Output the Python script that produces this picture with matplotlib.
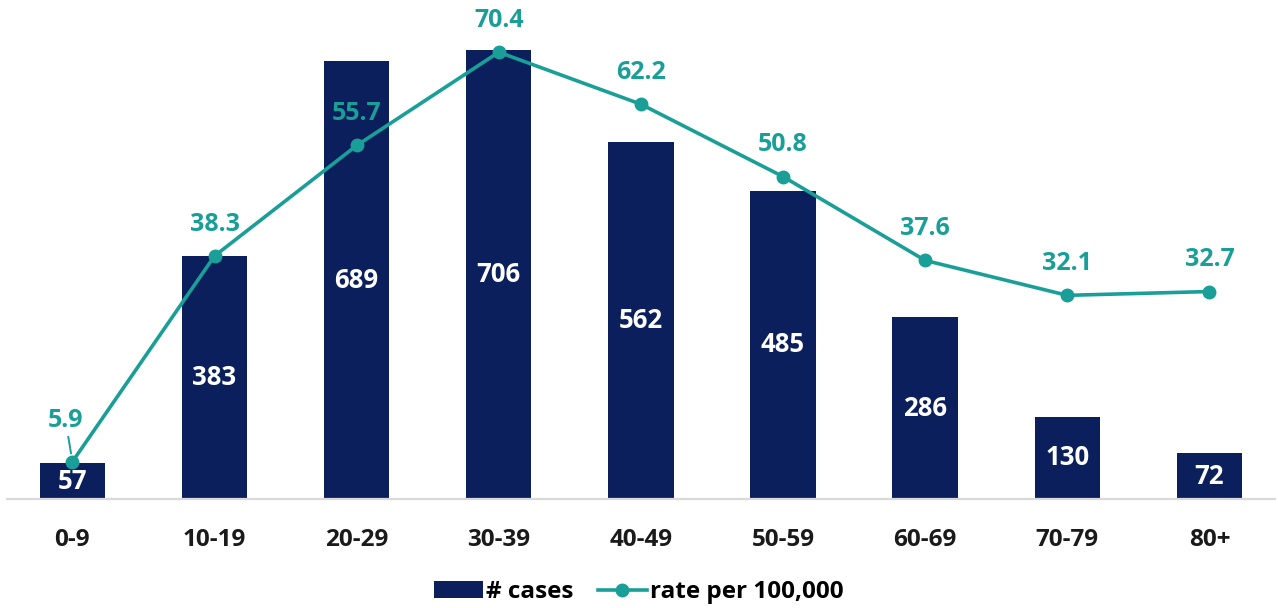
import numpy as np
import matplotlib.pyplot as plt
from matplotlib.lines import Line2D
from matplotlib.patches import Patch

plt.rcParams['font.family'] = ['Open Sans', 'DejaVu Sans']

age_groups = ['0-9', '10-19', '20-29', '30-39', '40-49', '50-59', '60-69', '70-79', '80+']
cases = [57, 383, 689, 706, 562, 485, 286, 130, 72]
rate = [5.9, 38.3, 55.7, 70.4, 62.2, 50.8, 37.6, 32.1, 32.7]

navy = '#0b1f5c'
teal = '#1a9e98'

fig = plt.figure(figsize=(12.78, 6.08), dpi=100)
ax = fig.add_axes([0.0055, 0.179, 0.992, 0.8125])
x = np.arange(len(age_groups))

ax.bar(x, cases, width=0.46, color=navy, zorder=2)
for xi, c in zip(x, cases):
    ax.text(xi, c / 2, str(c), ha='center', va='center', color='white',
            fontsize=18.5, fontweight='bold', zorder=3)

ax.set_xlim(-0.46, 8.46)
ax.set_ylim(0, 777)
ax.set_yticks([])
for s in ['top', 'right', 'left']:
    ax.spines[s].set_visible(False)
ax.spines['bottom'].set_color('#d9d9d9')
ax.spines['bottom'].set_linewidth(1.6)
ax.set_xticks(x)
ax.set_xticklabels(age_groups, fontsize=17.5, fontweight='bold', color='#1a1a1a')
ax.tick_params(axis='x', length=0, pad=21)

ax2 = ax.twinx()
ax2.set_ylim(0, 77.8)
ax2.set_yticks([])
for s in ax2.spines.values():
    s.set_visible(False)
ax2.plot(x, rate, color=teal, lw=2.6, marker='o', ms=9, zorder=4)
for xi, r in zip(x, rate):
    if xi == 0:
        # small leader line from the label down to the first point
        ax2.annotate(f'{r}', xy=(xi, r), xytext=(-5, 30), textcoords='offset points',
                     ha='center', va='center', color=teal, fontsize=18, fontweight='bold',
                     arrowprops=dict(arrowstyle='-', color=teal, lw=1.4, shrinkA=1, shrinkB=6))
    else:
        ax2.annotate(f'{r}', xy=(xi, r), xytext=(0, 23), textcoords='offset points',
                     ha='center', va='center', color=teal, fontsize=18, fontweight='bold')

handles = [Patch(facecolor=navy, label='# cases'),
           Line2D([0], [0], color=teal, lw=2.6, marker='o', ms=9, label='rate per 100,000')]
fig.legend(handles=handles, loc='center', bbox_to_anchor=(0.5, 0.026), ncol=2, frameon=False,
           prop={'size': 17.5, 'weight': 'bold'}, handlelength=2.0, handletextpad=0.15,
           columnspacing=1.0)

fig.savefig('out.png', dpi=100)
